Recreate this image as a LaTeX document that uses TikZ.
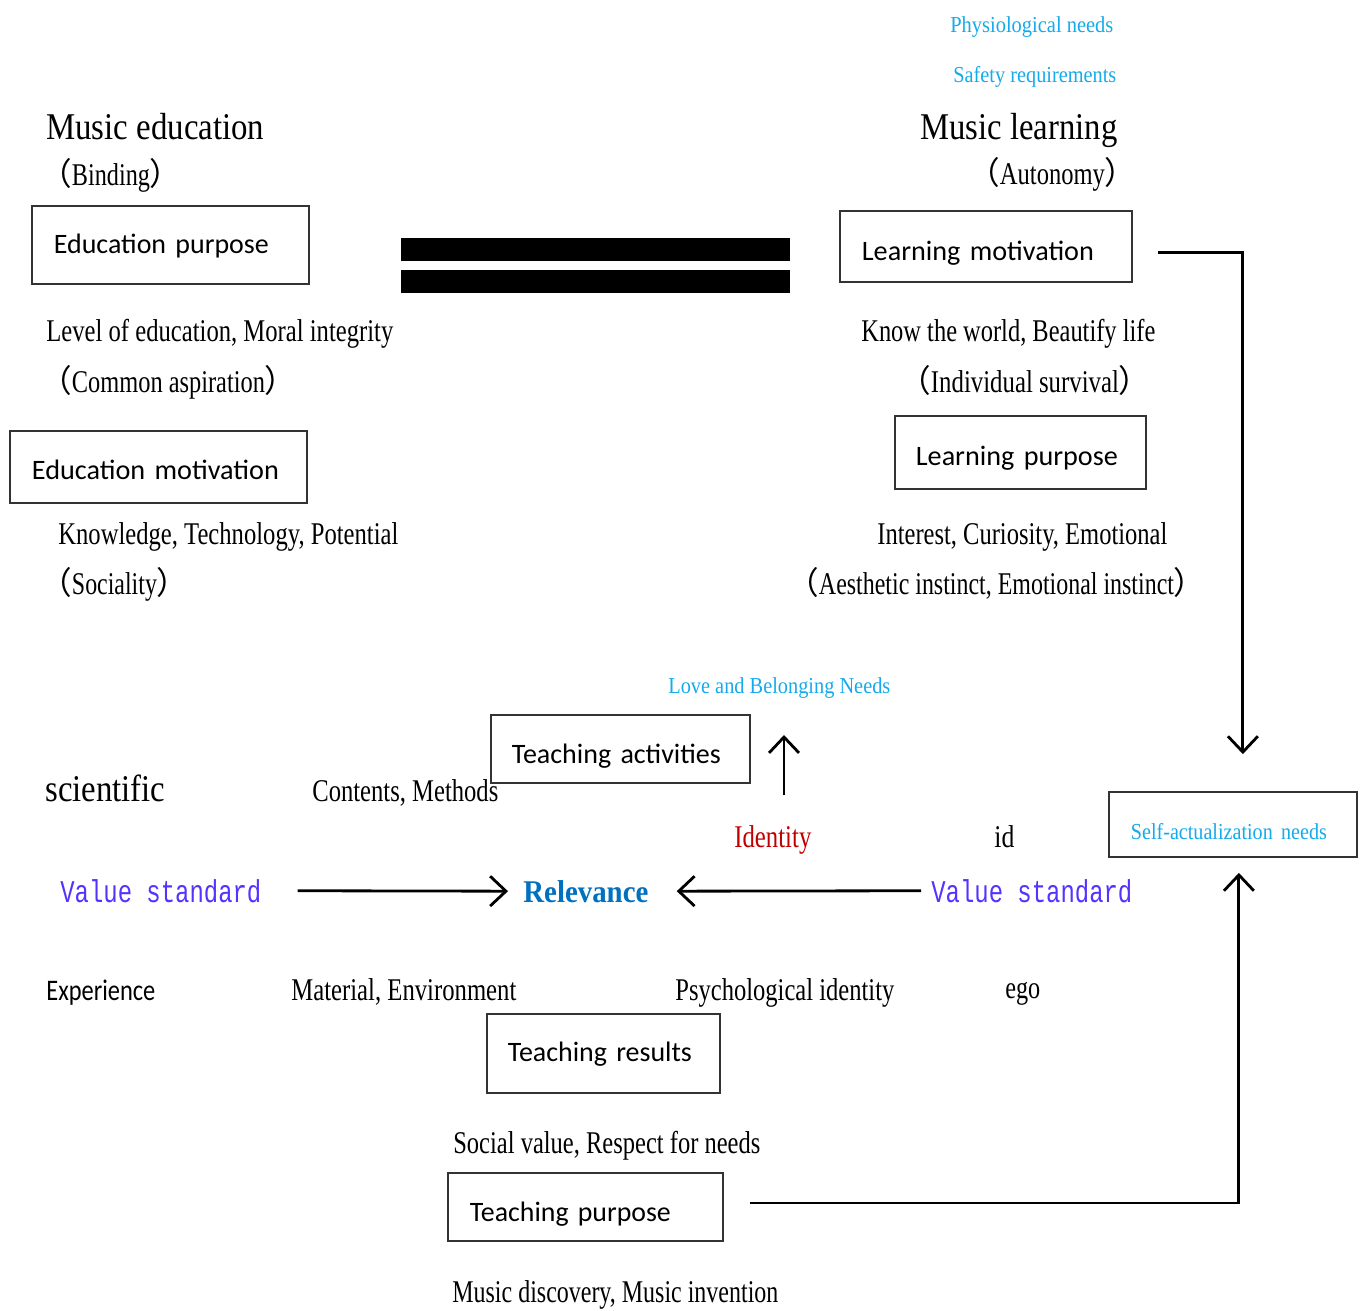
\documentclass[tikz,border=0pt]{standalone}
\usepackage{fontspec}
\usepackage{graphicx}
\usetikzlibrary{arrows.meta}
\setmainfont{Liberation Serif}
\newfontfamily\boxf{Carlito}
\newfontfamily\monof{Liberation Mono}
\newfontfamily\cjkf{Noto Sans CJK SC}
\newdimen\px \px=0.02cm
\newcommand\fw[2]{\resizebox{#1\px}{\height}{#2}}
\newcommand\lpar{{\cjkf （}}
\newcommand\rpar{{\cjkf ）}}
\newcommand\hsz{\fontsize{21.5pt}{24pt}\selectfont}
\newcommand\nsz{\fontsize{18pt}{21pt}\selectfont}
\newcommand\ssz{\fontsize{13pt}{15pt}\selectfont}
\definecolor{cyanc}{RGB}{20,170,235}
\definecolor{purp}{RGB}{85,51,255}
\definecolor{relc}{RGB}{0,112,192}
\definecolor{redc}{RGB}{192,0,0}
\tikzset{
  txt/.style={inner sep=0pt, anchor=base west},
  box/.style={draw=black!80, line width=1pt, anchor=west, align=left, inner ysep=0pt,
              font=\boxf\fontsize{16pt}{19pt}\selectfont},
  conn/.style={line width=1.6pt, -{Straight Barb[length=9pt,width=17pt]}}
}
\begin{document}
\begin{tikzpicture}[x=0.02cm, y=-0.02cm]
\useasboundingbox (0,0) rectangle (1362,1311);

% top cyan labels
\node[txt, text=cyanc, font=\ssz] (phys) at (950,33) {\fw{163}{Physiological needs}};
\node[txt, text=cyanc, font=\ssz] (safe) at (953,83) {\fw{163}{Safety requirements}};

% headings
\node[txt, font=\hsz] (med) at (46,140) {\fw{218}{Music education}};
\node[txt, font=\hsz] (mlr) at (920,140) {\fw{197}{Music learning}};
\node[txt, font=\nsz] (bind) at (40,186) {\lpar\fw{78}{Binding}\rpar};
\node[txt, font=\nsz] (auto) at (968,185) {\lpar\fw{105}{Autonomy}\rpar};

% boxes
\node[box, text width=233\px, inner xsep=22\px, text height=47.7\px, text depth=30.3\px] (ep) at (31,245) {\fw{215}{Education purpose}};
\node[box, text width=248\px, inner xsep=22\px, text height=49.7\px, text depth=21.3\px] (lm) at (839,246.5) {\fw{232}{Learning motivation}};
\node[box, text width=253\px, inner xsep=22\px, text height=48.7\px, text depth=23.3\px] (em) at (9,467) {\fw{247}{Education motivation}};
\node[box, text width=209\px, inner xsep=21\px, text height=49.7\px, text depth=23.3\px] (lp) at (894,452.5) {\fw{202}{Learning purpose}};
\node[box, text width=217\px, inner xsep=21\px, text height=48.7\px, text depth=19.3\px] (ta) at (490,749) {\fw{209}{Teaching activities}};
\node[box, text width=204\px, inner xsep=22\px, text height=47\px, text depth=18\px] (sa) at (1108,824.5) {\textcolor{cyanc}{\rmfamily\ssz\fw{196}{Self-actualization needs}}};
\node[box, text width=191\px, inner xsep=21\px, text height=47.7\px, text depth=31.3\px] (tr) at (486,1053.5) {\fw{184}{Teaching results}};
\node[box, text width=231\px, inner xsep=22\px, text height=48.7\px, text depth=19.3\px] (tp) at (447,1207) {\fw{201}{Teaching purpose}};

% equality bars
\fill (401,238) rectangle (790,261);
\fill (401,270) rectangle (790,293);

% text blocks
\node[txt, font=\nsz] (lev) at (46,341) {\fw{347}{Level of education, Moral integrity}};
\node[txt, font=\nsz] (know) at (861,341) {\fw{294}{Know the world, Beautify life}};
\node[txt, font=\nsz] (comm) at (40,392) {\lpar\fw{193}{Common aspiration}\rpar};
\node[txt, font=\nsz] (indiv) at (899,392) {\lpar\fw{188}{Individual survival}\rpar};
\node[txt, font=\nsz] (knowl) at (58,544) {\fw{340}{Knowledge, Technology, Potential}};
\node[txt, font=\nsz] (inter) at (877,544) {\fw{290}{Interest, Curiosity, Emotional}};
\node[txt, font=\nsz] (soc) at (40,594) {\lpar\fw{85}{Sociality}\rpar};
\node[txt, font=\nsz] (aest) at (787,594) {\lpar\fw{355}{Aesthetic instinct, Emotional instinct}\rpar};
\node[txt, text=cyanc, font=\ssz] (love) at (668,693) {\fw{222}{Love and Belonging Needs}};
\node[txt, font=\hsz] (sci) at (45,801) {\fw{120}{scientific}};
\node[txt, font=\nsz] (cont) at (312,801) {\fw{186}{Contents, Methods}};
\node[txt, text=redc, font=\nsz] (iden) at (734,847) {\fw{77}{Identity}};
\node[txt, font=\nsz] (idt) at (994,847) {\fw{20}{id}};
\node[txt, text=purp, font=\monof\fontsize{18pt}{20pt}\selectfont] (vs1) at (60,902) {\fw{201}{Value standard}};
\node[txt, text=relc, font=\nsz\bfseries] (rel) at (523,902) {\fw{125}{Relevance}};
\node[txt, text=purp, font=\monof\fontsize{18pt}{20pt}\selectfont] (vs2) at (931,902) {\fw{201}{Value standard}};
\node[txt, font=\boxf\fontsize{17pt}{20pt}\selectfont] (exp) at (46,1000) {\fw{109}{Experience}};
\node[txt, font=\nsz] (mat) at (291,1000) {\fw{225}{Material, Environment}};
\node[txt, font=\nsz] (psy) at (675,1000) {\fw{219}{Psychological identity}};
\node[txt, font=\nsz] (ego) at (1005,998) {\fw{35}{ego}};
\node[txt, font=\nsz] (socv) at (453,1153) {\fw{307}{Social value, Respect for needs}};
\node[txt, font=\nsz] (mdis) at (452,1302) {\fw{326}{Music discovery, Music invention}};

% connectors
\draw[conn] ([xshift=36\px]vs1.east) -- ([xshift=-15\px]rel.west);
\draw[conn] ([xshift=-10\px]vs2.west) -- ([xshift=28\px]rel.east);
\coordinate (upA) at (784,795);
\coordinate (upB) at (784,735);
\draw[conn] (upA) -- (upB);
\draw[conn] ([xshift=25\px,yshift=-6\px]lm.east) -| ([xshift=10\px,yshift=37\px]sa.north);
\draw[conn] ([xshift=26\px,yshift=4\px]tp.east) -| ([xshift=6\px,yshift=-15\px]sa.south);
\end{tikzpicture}
\end{document}
